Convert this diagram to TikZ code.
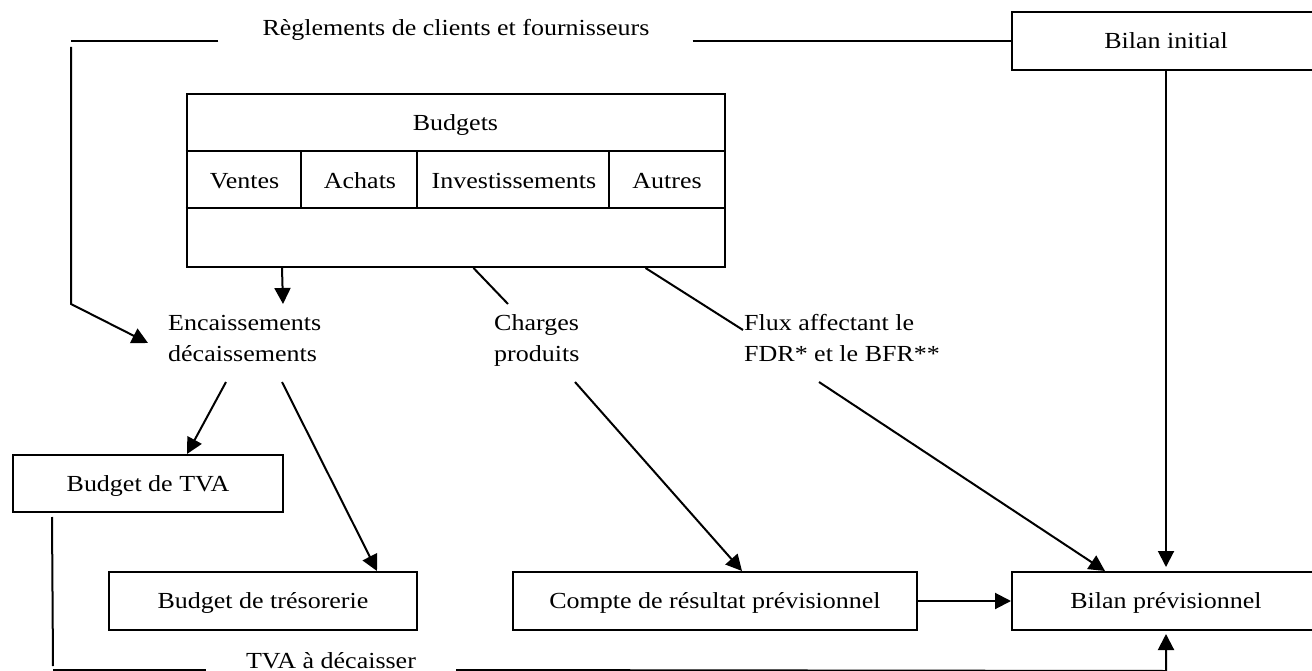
\documentclass[tikz,border=0pt]{standalone}
\usepackage{fontspec}
\setmainfont[FakeStretch=1.13]{Liberation Serif}
\usetikzlibrary{arrows.meta,calc}

\begin{document}
\begin{tikzpicture}[x=1pt,y=-1pt,
  every node/.style={font=\fontsize{23}{31}\selectfont, inner sep=0pt},
  conn/.style={line width=2pt, line cap=butt},
  arrow/.style={conn, -{Triangle[length=16pt,width=16pt]}},
  box/.style={draw, line width=2pt, text height=15.2pt, text depth=0pt},
  cell/.style={text height=15.2pt, text depth=0pt},
  label/.style={align=left, anchor=base west}]

\useasboundingbox (0,0) rectangle (1312,671);

% boxes
\node[box, minimum width=308pt, minimum height=58pt] (binit) at (1166,41) {Bilan initial};
\node[box, minimum width=538pt, minimum height=173pt] (bud) at (455.5,180.5) {};
\node[box, minimum width=270pt, minimum height=57pt] (tva) at (148,483.5) {Budget de TVA};
\node[box, minimum width=308pt, minimum height=58pt] (treso) at (263,601) {Budget de trésorerie};
\node[box, minimum width=404pt, minimum height=58pt] (compte) at (715,601) {Compte de résultat prévisionnel};
\node[box, minimum width=308pt, minimum height=58pt] (bprev) at (1166,601) {Bilan prévisionnel};

% inner grid of the budgets table
\draw[conn] ($(bud.north west)+(0,58)$) -- ($(bud.north east)+(0,58)$);
\draw[conn] ($(bud.north west)+(0,115)$) -- ($(bud.north east)+(0,115)$);
\draw[conn] ($(bud.north west)+(115.5,58)$) -- ($(bud.north west)+(115.5,115)$);
\draw[conn] ($(bud.north west)+(231.5,58)$) -- ($(bud.north west)+(231.5,115)$);
\draw[conn] ($(bud.north west)+(423.5,58)$) -- ($(bud.north west)+(423.5,115)$);

\node[cell] (budt) at (455.5,123) {Budgets};
\node[cell] (ventes) at (244.5,180.5) {Ventes};
\node[cell] (achats) at (360,180.5) {Achats};
\node[cell] (invest) at (514,180.5) {Investissements};
\node[cell] (autres) at (667,180.5) {Autres};

% free labels (anchored on the baseline of their last line)
\node[anchor=base] (reg) at (456,36) {Règlements de clients et fournisseurs};
\node[label] (enc) at (168,361) {Encaissements\\décaissements};
\node[label] (chg) at (494,361) {Charges\\produits};
\node[label] (flux) at (744,361) {Flux affectant le\\FDR* et le BFR**};
\node[anchor=base] (tvadec) at (331,668) {TVA à décaisser};

\coordinate (tl) at (71,41);
\coordinate (bl) at (53,670);

% settlements from customers and suppliers
\draw[conn] ($(reg.base west)+(-44,5)$) -- (tl);
\draw[conn] ($(reg.base east)+(43,5)$) -- (binit.west);
\draw[arrow] ($(tl)+(0,6)$) -- ($(tl)+(0,263)$) -- ($(enc.base west)+(-20,-18)$);

% flows out of the budgets
\draw[arrow] ($(bud.south west)+(96.5,0)$) -- ($(enc.base west)+(115,-57)$);
\draw[conn] ($(bud.south west)+(288,0)$) -- ($(chg.base west)+(14,-57)$);
\draw[conn] ($(bud.south west)+(460,0)$) -- ($(flux.base west)+(-1,-31)$);

% towards the forecast documents
\draw[arrow] ($(enc.base west)+(58,21)$) -- ($(tva.north west)+(175,0)$);
\draw[arrow] ($(enc.base west)+(114,21)$) -- ($(treso.north west)+(269,0)$);
\draw[arrow] ($(chg.base west)+(81,21)$) -- ($(compte.north west)+(230,0)$);
\draw[arrow] ($(flux.base west)+(75,21)$) -- ($(bprev.north west)+(94,0)$);
\draw[arrow] (binit.south) -- ($(bprev.north)+(0,-4)$);
\draw[arrow] (compte.east) -- (bprev.west);

% VAT to be paid
\draw[conn] ($(tva.south west)+(40,4)$) -- ($(bl)+(0,-4)$);
\draw[conn] (bl) -- ($(tvadec.base west)+(-40,2)$);
\draw[arrow] ($(tvadec.base east)+(40,2)$) -- ($(bprev.south)+(0,40)$) -- ($(bprev.south)+(0,3)$);

\end{tikzpicture}
\end{document}
